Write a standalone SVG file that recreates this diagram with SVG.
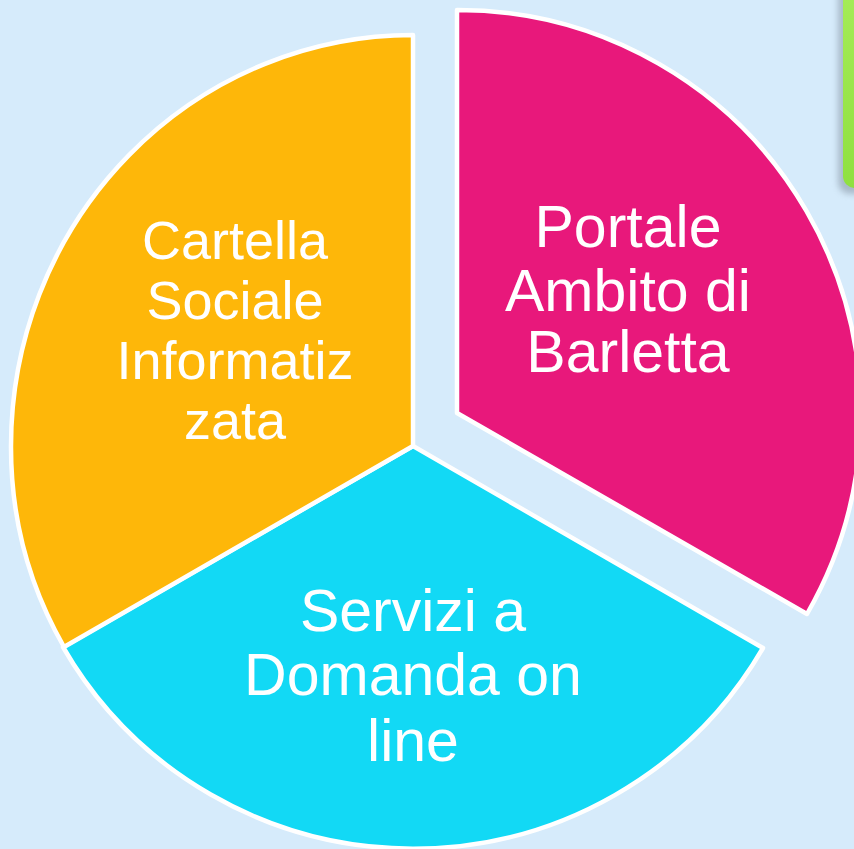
<svg xmlns="http://www.w3.org/2000/svg" width="854" height="849" viewBox="0 0 854 849">
<defs>
<style>
.seg{stroke:#ffffff;stroke-width:4.5;stroke-linejoin:round}
.lbl{font-family:"Liberation Sans",Arial,sans-serif;fill:#ffffff;text-anchor:middle}
</style>
<filter id="sh" x="-50%" y="-20%" width="200%" height="140%">
<feGaussianBlur stdDeviation="3"/>
</filter>
<linearGradient id="gr" x1="0" y1="0" x2="0" y2="1">
<stop offset="0" stop-color="#a6ec58"/>
<stop offset="1" stop-color="#8fe040"/>
</linearGradient>
</defs>
<rect width="854" height="849" fill="#d6ebfb"/>
<g id="greenbox">
<rect x="838" y="-20" width="40" height="214" rx="12" fill="#8a9aa8" opacity="0.6" filter="url(#sh)"/>
<rect x="843" y="-20" width="40" height="208" rx="12" fill="url(#gr)"/>
</g>
<g id="pink">
<path class="seg" d="M457,413 L457,10 A403,403 0 0,1 807,614 Z" fill="#e8187b"/>
<text class="lbl" font-size="59" x="628" y="247">Portale</text>
<text class="lbl" font-size="59" x="628" y="311">Ambito di</text>
<text class="lbl" font-size="59" x="628" y="372">Barletta</text>
</g>
<g id="cyan">
<path class="seg" d="M413,446 L763,648 A404,402 0 0,1 63,647 Z" fill="#12d9f5"/>
<text class="lbl" font-size="59" x="413" y="631">Servizi a</text>
<text class="lbl" font-size="59" x="413" y="695">Domanda on</text>
<text class="lbl" font-size="59" x="413" y="761">line</text>
</g>
<g id="yellow">
<path class="seg" d="M413,446 L64,647 A402,402 0 0,1 11,446 A402,411 0 0,1 413,35 Z" fill="#feb709"/>
<text class="lbl" font-size="54" x="235" y="259">Cartella</text>
<text class="lbl" font-size="54" x="235" y="319">Sociale</text>
<text class="lbl" font-size="54" x="235" y="379">Informatiz</text>
<text class="lbl" font-size="54" x="235" y="439">zata</text>
</g>
</svg>
